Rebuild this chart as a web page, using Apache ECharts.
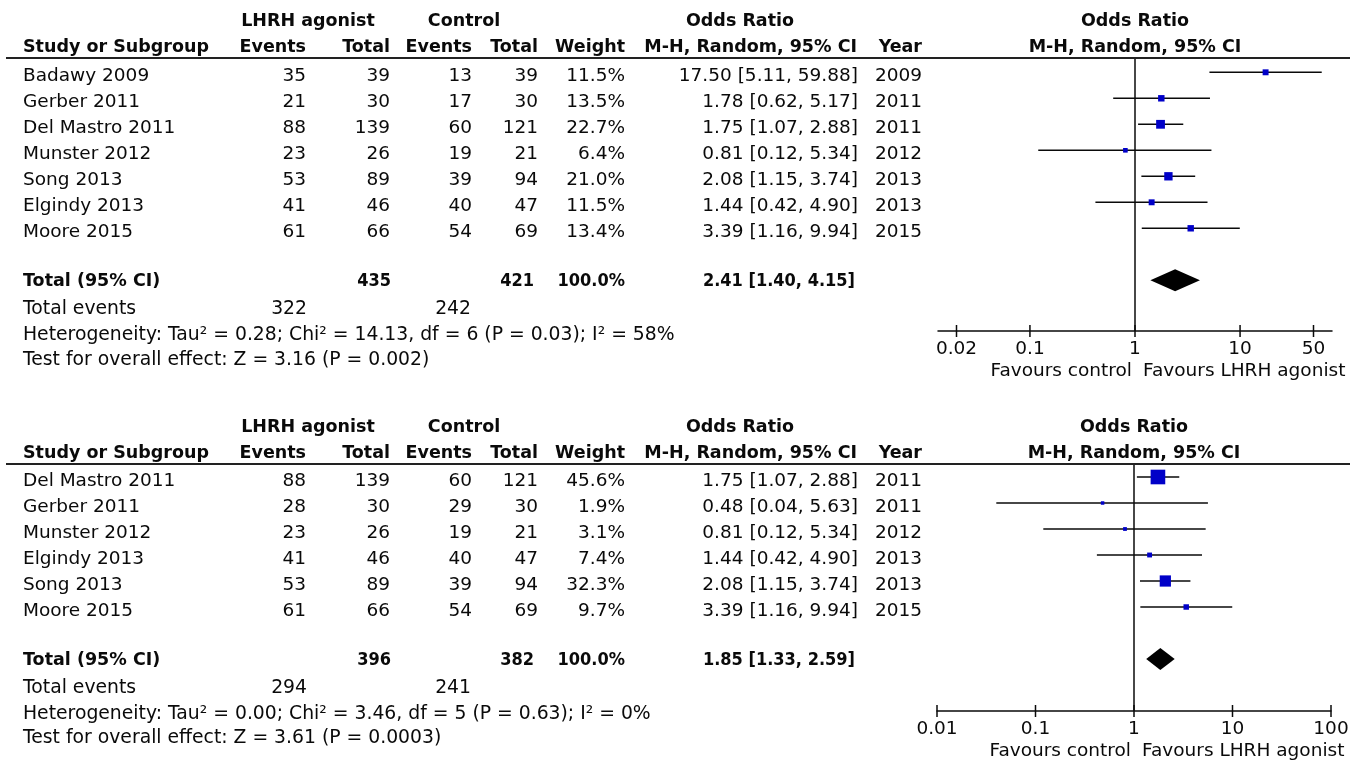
<!DOCTYPE html>
<html>
<head>
<meta charset="utf-8">
<title>LHRH agonist vs control — forest plots</title>
<script src="https://cdn.jsdelivr.net/npm/echarts@6/dist/echarts.min.js"></script>
<style>
  html, body { margin: 0; padding: 0; background: #ffffff; }
  #main { width: 1365px; height: 762px; }
</style>
</head>
<body>
<div id="main"></div>
<script>
// ---------- Panel A: all seven trials ----------
const studiesA     = ['Badawy 2009', 'Gerber 2011', 'Del Mastro 2011', 'Munster 2012', 'Song 2013', 'Elgindy 2013', 'Moore 2015'];
const lhrhEventsA  = [35, 21, 88, 23, 53, 41, 61];
const lhrhTotalA   = [39, 30, 139, 26, 89, 46, 66];
const ctrlEventsA  = [13, 17, 60, 19, 39, 40, 54];
const ctrlTotalA   = [39, 30, 121, 21, 94, 47, 69];
const weightA      = [11.5, 13.5, 22.7, 6.4, 21.0, 11.5, 13.4];
const oddsA        = [17.50, 1.78, 1.75, 0.81, 2.08, 1.44, 3.39];
const lowerA       = [5.11, 0.62, 1.07, 0.12, 1.15, 0.42, 1.16];
const upperA       = [59.88, 5.17, 2.88, 5.34, 3.74, 4.90, 9.94];
const yearA        = [2009, 2011, 2011, 2012, 2013, 2013, 2015];
const pooledA      = [2.41, 1.40, 4.15];          // estimate, lower, upper
const totalsA      = [435, 421];                  // participants: LHRH, control
const totalEventsA = [322, 242];
const heterogeneityA = 'Heterogeneity: Tau² = 0.28; Chi² = 14.13, df = 6 (P = 0.03); I² = 58%';
const overallA     = 'Test for overall effect: Z = 3.16 (P = 0.002)';
const tickValuesA  = [0.02, 0.1, 1, 10, 50];
const tickLabelsA  = ['0.02', '0.1', '1', '10', '50'];

// ---------- Panel B: six trials ----------
const studiesB     = ['Del Mastro 2011', 'Gerber 2011', 'Munster 2012', 'Elgindy 2013', 'Song 2013', 'Moore 2015'];
const lhrhEventsB  = [88, 28, 23, 41, 53, 61];
const lhrhTotalB   = [139, 30, 26, 46, 89, 66];
const ctrlEventsB  = [60, 29, 19, 40, 39, 54];
const ctrlTotalB   = [121, 30, 21, 47, 94, 69];
const weightB      = [45.6, 1.9, 3.1, 7.4, 32.3, 9.7];
const oddsB        = [1.75, 0.48, 0.81, 1.44, 2.08, 3.39];
const lowerB       = [1.07, 0.04, 0.12, 0.42, 1.15, 1.16];
const upperB       = [2.88, 5.63, 5.34, 4.90, 3.74, 9.94];
const yearB        = [2011, 2011, 2012, 2013, 2013, 2015];
const pooledB      = [1.85, 1.33, 2.59];
const totalsB      = [396, 382];
const totalEventsB = [294, 241];
const heterogeneityB = 'Heterogeneity: Tau² = 0.00; Chi² = 3.46, df = 5 (P = 0.63); I² = 0%';
const overallB     = 'Test for overall effect: Z = 3.61 (P = 0.0003)';
const tickValuesB  = [0.01, 0.1, 1, 10, 100];
const tickLabelsB  = ['0.01', '0.1', '1', '10', '100'];

// ---------- Shared labels ----------
const groupHeaders  = ['LHRH agonist', 'Control', 'Odds Ratio'];
const columnHeaders = ['Study or Subgroup', 'Events', 'Total', 'Events', 'Total', 'Weight', 'M-H, Random, 95% CI', 'Year'];
const favourLabels  = ['Favours control', 'Favours LHRH agonist'];
const totalLabel    = 'Total (95% CI)';
const eventsLabel   = 'Total events';

// ---------- Layout ----------
const INK = '#0a0a0a';
const SQUARE = '#0000c8';
const FONT_HEAD = 'bold 17.5px "DejaVu Sans"';
const FONT_ROW  = '18.5px "DejaVu Sans"';
const FONT_SUM  = '18.8px "DejaVu Sans"';
const FONT_SUMB = 'bold 17.5px "DejaVu Sans"';
const FONT_SUMN = 'bold 18px "DejaVu Sans Condensed", "DejaVu Sans"';
// right edges of the numeric columns
const COL = { study: 23, ev1: 306, tot1: 390, ev2: 472, tot2: 538, weight: 625, ci: 858, year: 922 };

const panels = [
  {
    studies: studiesA, ev1: lhrhEventsA, tot1: lhrhTotalA, ev2: ctrlEventsA, tot2: ctrlTotalA,
    weight: weightA, or: oddsA, lo: lowerA, hi: upperA, year: yearA,
    pooled: pooledA, totals: totalsA, events: totalEventsA, het: heterogeneityA, overall: overallA,
    ticks: tickValuesA, tickLabels: tickLabelsA,
    grid: { left: 938, top: 58, width: 394, height: 273 },
    yMin: -0.55, yMax: 9.95, xMin: 1 / 75, xMax: 75
  },
  {
    studies: studiesB, ev1: lhrhEventsB, tot1: lhrhTotalB, ev2: ctrlEventsB, tot2: ctrlTotalB,
    weight: weightB, or: oddsB, lo: lowerB, hi: upperB, year: yearB,
    pooled: pooledB, totals: totalsB, events: totalEventsB, het: heterogeneityB, overall: overallB,
    ticks: tickValuesB, tickLabels: tickLabelsB,
    grid: { left: 937, top: 464, width: 394, height: 247 },
    yMin: -0.5, yMax: 9, xMin: 0.01, xMax: 100
  }
];

const fmt2 = v => v.toFixed(2);
const ciText = (e, l, h) => fmt2(e) + ' [' + fmt2(l) + ', ' + fmt2(h) + ']';
const squareSize = w => 3 + 0.255 * w;

const chart = echarts.init(document.getElementById('main'), null, { renderer: 'canvas' });

const grids = [], xAxes = [], yAxes = [], series = [];

panels.forEach((p, g) => {
  const n = p.studies.length;
  const totalRow = n + 1;

  grids.push(Object.assign({ containLabel: false }, p.grid));
  xAxes.push({
    type: 'log', logBase: 10, gridIndex: g, min: p.xMin, max: p.xMax,
    axisLine: { show: true, onZero: false, lineStyle: { color: INK, width: 1.5 } },
    axisTick: { show: false }, axisLabel: { show: false }, splitLine: { show: false }
  });
  yAxes.push({ type: 'value', gridIndex: g, inverse: true, min: p.yMin, max: p.yMax, show: false });

  // confidence interval whiskers
  series.push({
    type: 'custom', xAxisIndex: g, yAxisIndex: g, clip: false, z: 3,
    data: p.studies.map((s, i) => [p.lo[i], p.hi[i], i]),
    renderItem: (params, api) => {
      const a = api.coord([api.value(0), api.value(2)]);
      const b = api.coord([api.value(1), api.value(2)]);
      return { type: 'line', shape: { x1: a[0], y1: a[1], x2: b[0], y2: b[1] },
               style: { stroke: INK, lineWidth: 1.5 } };
    }
  });

  // study estimates, sized by weight, plus the line of no effect
  series.push({
    type: 'scatter', xAxisIndex: g, yAxisIndex: g, z: 4,
    symbol: 'rect',
    symbolSize: v => squareSize(v[2]),
    itemStyle: { color: SQUARE, opacity: 1 },
    data: p.studies.map((s, i) => [p.or[i], i, p.weight[i]]),
    markLine: {
      silent: true, symbol: 'none', label: { show: false },
      lineStyle: { color: INK, width: 1.5, type: 'solid' },
      data: [{ xAxis: 1 }]
    }
  });

  // pooled diamond
  series.push({
    type: 'custom', xAxisIndex: g, yAxisIndex: g, clip: false, z: 5,
    data: [[p.pooled[0], p.pooled[1], p.pooled[2], totalRow]],
    renderItem: (params, api) => {
      const c = api.coord([api.value(0), api.value(3)]);
      const l = api.coord([api.value(1), api.value(3)]);
      const r = api.coord([api.value(2), api.value(3)]);
      return { type: 'polygon',
               shape: { points: [[l[0], c[1]], [c[0], c[1] - 11], [r[0], c[1]], [c[0], c[1] + 11]] },
               style: { fill: '#000000' } };
    }
  });

  // axis ticks crossing the axis line, with their labels
  series.push({
    type: 'custom', xAxisIndex: g, yAxisIndex: g, clip: false, z: 5,
    data: p.ticks.map((v, i) => [v, p.yMax, i]),
    renderItem: (params, api) => {
      const pt = api.coord([api.value(0), api.value(1)]);
      const label = p.tickLabels[api.value(2)];
      return { type: 'group', children: [
        { type: 'line', shape: { x1: pt[0], y1: pt[1] - 6, x2: pt[0], y2: pt[1] + 6 },
          style: { stroke: INK, lineWidth: 1.5 } },
        { type: 'text', x: pt[0], y: pt[1] + 18,
          style: { text: label, font: FONT_ROW, fill: INK,
                   align: 'center', verticalAlign: 'middle', textAlign: 'center', textVerticalAlign: 'middle' } }
      ] };
    }
  });

  // "Favours ..." captions either side of the null line
  series.push({
    type: 'custom', xAxisIndex: g, yAxisIndex: g, clip: false, z: 5,
    data: [[1, p.yMax]],
    renderItem: (params, api) => {
      const pt = api.coord([api.value(0), api.value(1)]);
      return { type: 'group', children: [
        { type: 'text', x: pt[0] - 3, y: pt[1] + 40,
          style: { text: favourLabels[0], font: FONT_ROW, fill: INK,
                   align: 'right', verticalAlign: 'middle', textAlign: 'right', textVerticalAlign: 'middle' } },
        { type: 'text', x: pt[0] + 8, y: pt[1] + 40,
          style: { text: favourLabels[1], font: FONT_ROW, fill: INK,
                   align: 'left', verticalAlign: 'middle', textAlign: 'left', textVerticalAlign: 'middle' } }
      ] };
    }
  });
});

chart.setOption({
  backgroundColor: '#ffffff',
  animation: false,
  grid: grids,
  xAxis: xAxes,
  yAxis: yAxes,
  series: series
});

// ---------- Table text, placed on the same rows as the plotted estimates ----------
function txt(x, y, text, font, align) {
  return { type: 'text', x: x, y: y, z: 10, silent: true,
           style: { text: String(text), font: font, fill: INK,
                    align: align, verticalAlign: 'middle', textAlign: align, textVerticalAlign: 'middle' } };
}

const elements = [];
panels.forEach((p, g) => {
  const n = p.studies.length;
  const rowPix = r => chart.convertToPixel({ yAxisIndex: g }, r);
  const top = p.grid.top;
  const gridMid = p.grid.left + p.grid.width / 2;

  // headers
  const h1 = top - 37, h2 = top - 11;
  elements.push(txt(308, h1, groupHeaders[0], FONT_HEAD, 'center'));
  elements.push(txt(464, h1, groupHeaders[1], FONT_HEAD, 'center'));
  elements.push(txt(740, h1, groupHeaders[2], FONT_HEAD, 'center'));
  elements.push(txt(gridMid, h1, groupHeaders[2], FONT_HEAD, 'center'));
  elements.push(txt(COL.study, h2, columnHeaders[0], FONT_HEAD, 'left'));
  elements.push(txt(COL.ev1, h2, columnHeaders[1], FONT_HEAD, 'right'));
  elements.push(txt(COL.tot1, h2, columnHeaders[2], FONT_HEAD, 'right'));
  elements.push(txt(COL.ev2, h2, columnHeaders[3], FONT_HEAD, 'right'));
  elements.push(txt(COL.tot2, h2, columnHeaders[4], FONT_HEAD, 'right'));
  elements.push(txt(COL.weight, h2, columnHeaders[5], FONT_HEAD, 'right'));
  elements.push(txt(COL.ci - 1, h2, columnHeaders[6], FONT_HEAD, 'right'));
  elements.push(txt(COL.year, h2, columnHeaders[7], FONT_HEAD, 'right'));
  elements.push(txt(gridMid, h2, columnHeaders[6], FONT_HEAD, 'center'));

  // rule under the headers
  elements.push({ type: 'line', z: 10, silent: true,
                  shape: { x1: 6, y1: top, x2: 1350, y2: top },
                  style: { stroke: '#222222', lineWidth: 2 } });

  // study rows
  p.studies.forEach((s, i) => {
    const y = rowPix(i) + 4;
    elements.push(txt(COL.study, y, s, FONT_ROW, 'left'));
    elements.push(txt(COL.ev1, y, p.ev1[i], FONT_ROW, 'right'));
    elements.push(txt(COL.tot1, y, p.tot1[i], FONT_ROW, 'right'));
    elements.push(txt(COL.ev2, y, p.ev2[i], FONT_ROW, 'right'));
    elements.push(txt(COL.tot2, y, p.tot2[i], FONT_ROW, 'right'));
    elements.push(txt(COL.weight, y, p.weight[i].toFixed(1) + '%', FONT_ROW, 'right'));
    elements.push(txt(COL.ci, y, ciText(p.or[i], p.lo[i], p.hi[i]), FONT_ROW, 'right'));
    elements.push(txt(COL.year, y, p.year[i], FONT_ROW, 'right'));
  });

  // pooled row and summary lines
  const yt = rowPix(n + 1) + 1.5;
  const weightSum = p.weight.reduce((a, b) => a + b, 0);
  elements.push(txt(COL.study, yt, totalLabel, FONT_SUMB, 'left'));
  elements.push(txt(COL.tot1 + 1, yt, p.totals[0], FONT_SUMN, 'right'));
  elements.push(txt(COL.tot2 - 4, yt, p.totals[1], FONT_SUMN, 'right'));
  elements.push(txt(COL.weight, yt, weightSum.toFixed(1) + '%', FONT_SUMN, 'right'));
  elements.push(txt(COL.ci - 3, yt, ciText(p.pooled[0], p.pooled[1], p.pooled[2]), FONT_SUMN, 'right'));

  const ye = rowPix(n + 2) + 3;
  elements.push(txt(COL.study, ye, eventsLabel, FONT_SUM, 'left'));
  elements.push(txt(COL.ev1 + 1, ye, p.events[0], FONT_SUM, 'right'));
  elements.push(txt(COL.ev2 - 1, ye, p.events[1], FONT_SUM, 'right'));
  elements.push(txt(COL.study, rowPix(n + 3) + 3, p.het, FONT_SUM, 'left'));
  elements.push(txt(COL.study, rowPix(n + 4) + 1.5, p.overall, FONT_SUM, 'left'));
});

chart.setOption({ graphic: { elements: elements } });
</script>
</body>
</html>
